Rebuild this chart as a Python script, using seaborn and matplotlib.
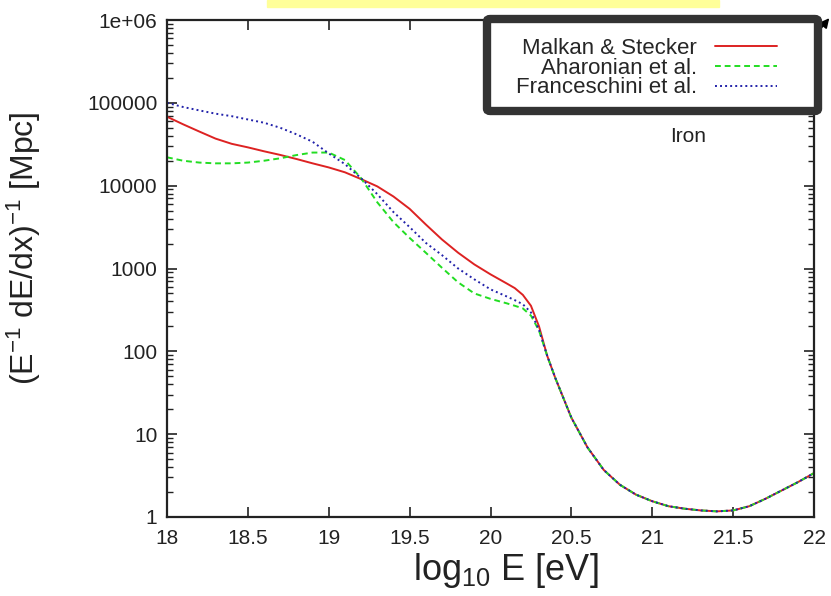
import numpy as np
import pandas as pd
import matplotlib
matplotlib.use("Agg")
import matplotlib.pyplot as plt
import seaborn as sns
from matplotlib.patches import FancyBboxPatch, Rectangle

# -----------------------------
# DATA
# -----------------------------

# energy grid where the three models differ
energy = [18.0, 18.1, 18.2, 18.3, 18.4, 18.5, 18.6, 18.7, 18.8, 18.9,
          19.0, 19.1, 19.2, 19.3, 19.4, 19.5, 19.6, 19.7, 19.8, 19.9,
          20.0, 20.1, 20.15, 20.2, 20.25, 20.3]

malkan = [68000, 55000, 45000, 37000, 32000, 29000, 26000, 23500, 21000, 18600,
          16600, 14500, 12000, 9800, 7400, 5250, 3400, 2240, 1550, 1120,
          850, 660, 580, 480, 355, 200]

aharonian = [22000, 20000, 19000, 18600, 18600, 19000, 20000, 21400, 23400, 25100,
             25100, 20400, 12300, 6300, 3630, 2340, 1550, 1020, 680, 500,
             430, 380, 355, 330, 270, 178]

franceschini = [100000, 89000, 81000, 74000, 69000, 63000, 57500, 50000, 41700, 33900,
                24500, 18200, 12300, 7900, 4800, 3160, 2040, 1450, 1000, 740,
                560, 460, 415, 370, 295, 182]

# above ~20.35 all three curves lie on top of each other
tail_energy = [20.35, 20.4, 20.45, 20.5, 20.6, 20.7, 20.8, 20.9, 21.0, 21.1,
               21.2, 21.3, 21.4, 21.5, 21.6, 21.7, 21.8, 21.9, 22.0]
tail_vals = [89, 48, 27.5, 15.8, 6.9, 3.7, 2.45, 1.86, 1.55, 1.35,
             1.26, 1.20, 1.17, 1.20, 1.35, 1.66, 2.09, 2.63, 3.39]

models = ["Malkan & Stecker", "Aharonian et al.", "Franceschini et al."]
colors = ["#dd2222", "#22dd22", "#2222aa"]

ytick_vals = [1, 10, 100, 1000, 10000, 100000, 1000000]
ytick_labels = ["1", "10", "100", "1000", "10000", "100000", "1e+06"]
xtick_vals = [18, 18.5, 19, 19.5, 20, 20.5, 21, 21.5, 22]
xtick_labels = ["18", "18.5", "19", "19.5", "20", "20.5", "21", "21.5", "22"]

frames = []
for name, vals in zip(models, [malkan, aharonian, franceschini]):
    frames.append(pd.DataFrame({"E": energy + tail_energy,
                                "L": vals + tail_vals,
                                "model": name}))
df = pd.concat(frames, ignore_index=True)

# -----------------------------
# PLOT
# -----------------------------

sns.set_style("ticks")
plt.rcParams["font.family"] = ["Liberation Sans", "DejaVu Sans"]
plt.rcParams["mathtext.default"] = "regular"

W, H = 831, 596
fig = plt.figure(figsize=(W / 100, H / 100), dpi=100)
ax = fig.add_axes([167 / W, 1 - 517 / H, (814 - 167) / W, (517 - 20) / H])

sns.lineplot(data=df, x="E", y="L", hue="model", style="model",
             hue_order=models, style_order=models,
             palette=dict(zip(models, colors)),
             dashes={models[0]: "", models[1]: (3, 2), models[2]: (1, 1.6)},
             linewidth=1.4, ax=ax, legend=True, sort=False)

ax.set_yscale("log")
ax.set_xlim(18, 22)
ax.set_ylim(1, 1e6)
ax.set_xticks(xtick_vals)
ax.set_xticklabels(xtick_labels)
ax.set_yticks(ytick_vals)
ax.set_yticklabels(ytick_labels)
ax.set_xlabel("")
ax.set_ylabel("")

for s in ax.spines.values():
    s.set_linewidth(1.6)
    s.set_color("#222222")

ax.tick_params(axis="both", which="major", direction="in", top=True, right=True,
               length=7, width=1.2, labelsize=15, colors="#222222")
ax.tick_params(axis="x", which="major", pad=9)
ax.tick_params(axis="y", which="major", pad=7)
ax.tick_params(axis="y", which="minor", direction="in", left=True, right=True,
               length=4, width=1.0, colors="#222222")
ax.tick_params(axis="x", which="minor", bottom=False, top=False)

# legend inside a thick dark box, text right aligned like gnuplot
handles, labels = ax.get_legend_handles_labels()
ax.get_legend().remove()
leg = ax.legend(handles, labels, loc="center right",
                bbox_to_anchor=(788 / W, 1 - 68 / H), bbox_transform=fig.transFigure,
                frameon=False, markerfirst=False, fontsize=16,
                handlelength=2.8, handletextpad=0.8, labelspacing=-0.05,
                borderpad=0)
leg.set_zorder(20)

box = FancyBboxPatch((487 / W, 1 - 111 / H), (818 - 487) / W, 92 / H,
                     boxstyle="round,pad=0,rounding_size=0.004",
                     transform=fig.transFigure, facecolor="white",
                     edgecolor="#333333", linewidth=6, zorder=10)
fig.add_artist(box)
fig.add_artist(leg)

ax.text(688 / W, 1 - 137 / H, "Iron", transform=fig.transFigure,
        fontsize=15, ha="center", va="center", color="#222222")

# axis labels
fig.text(24 / W, 1 - 248 / H, r"(E$^{-1}$ dE/dx)$^{-1}$ [Mpc]", rotation=90,
         ha="center", va="center", fontsize=23, color="#222222")
fig.text(506 / W, 1 - 570 / H, r"log$_{10}$ E [eV]",
         ha="center", va="center", fontsize=26, color="#222222")

# yellow highlight strip at top and little arrow head top right
fig.add_artist(Rectangle((267 / W, 1 - 7 / H), (719 - 267) / W, 7 / H,
                         transform=fig.transFigure, color="#ffff99", zorder=5))
ax.annotate("", xy=(831 / W, 1 - 16 / H), xytext=(818 / W, 1 - 32 / H),
            xycoords="figure fraction", textcoords="figure fraction",
            arrowprops=dict(arrowstyle="-|>", color="black", lw=1.2,
                            mutation_scale=14), zorder=4)

plt.savefig("out.png", dpi=100)
